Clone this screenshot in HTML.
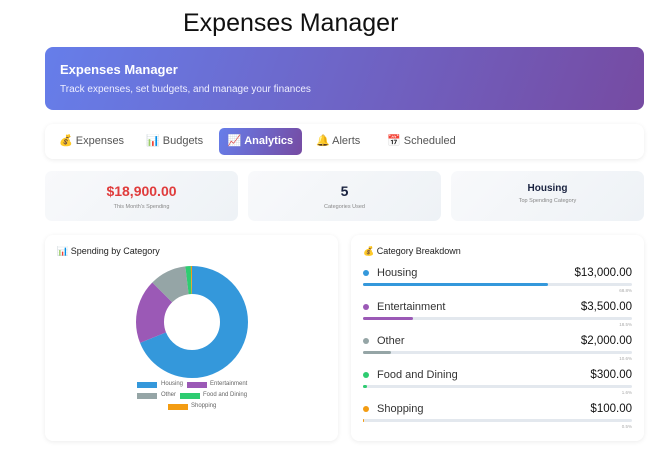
<!DOCTYPE html>
<html><head><meta charset="utf-8"><style>
*{margin:0;padding:0;box-sizing:border-box}
body{width:665px;height:456px;background:#fff;font-family:"Liberation Sans","Noto Sans CJK SC",sans-serif;position:relative;overflow:hidden;color:#222}
.a{position:absolute}
.card{position:absolute;background:#fff;border-radius:8px;box-shadow:0 1px 5px rgba(0,0,0,0.08)}
.stat{position:absolute;top:171px;height:50px;width:193px;border-radius:7px;background:linear-gradient(135deg,#f8f9fb,#eef2f6);text-align:center}
.tab{position:absolute;top:128px;height:27px;line-height:27px;font-size:11px;color:#555}
.row .lab{position:absolute;left:377px;font-size:11px;color:#333}
.amt{position:absolute;right:33px;font-size:11.5px;color:#111;text-align:right}
.dot{position:absolute;left:363px;width:6px;height:6px;border-radius:50%}
.bar{position:absolute;left:363px;width:269px;height:3px;background:#e3e8ee;border-radius:2px}
.fill{position:absolute;left:0;top:0;height:3px;border-radius:2px}
.pct{position:absolute;right:33px;font-size:4.5px;color:#aaa}
.lg{position:absolute;font-size:6px;color:#666}
.lb{position:absolute;width:20px;height:6px}
</style></head><body>
<div class="a" style="left:183px;width:210px;top:9px;text-align:center;font-size:25px;color:#111;white-space:nowrap">Expenses Manager</div>
<div class="a" style="left:45px;top:47px;width:599px;height:63px;border-radius:8px;background:linear-gradient(110deg,#667eea,#764ba2)"></div>
<div class="a" style="left:60px;top:62px;font-size:13px;font-weight:bold;color:#fff">Expenses Manager</div>
<div class="a" style="left:60px;top:84px;font-size:10px;color:#eef">Track expenses, set budgets, and manage your finances</div>

<div class="card" style="left:45px;top:124px;width:599px;height:35px"></div>
<div class="tab" style="left:59px">💰 Expenses</div>
<div class="tab" style="left:146px">📊 Budgets</div>
<div class="tab" style="left:219px;width:83px;border-radius:5px;background:linear-gradient(110deg,#667eea,#764ba2);color:#fff;font-weight:bold;text-align:center">📈 Analytics</div>
<div class="tab" style="left:316px">🔔 Alerts</div>
<div class="tab" style="left:387px">📅 Scheduled</div>

<div class="stat" style="left:45px"><div style="margin-top:12px;font-size:14px;font-weight:bold;color:#e03c3c">$18,900.00</div><div style="font-size:5.5px;color:#888;margin-top:5px">This Month's Spending</div></div>
<div class="stat" style="left:248px"><div style="margin-top:12px;font-size:14px;font-weight:bold;color:#1a2340">5</div><div style="font-size:5.5px;color:#888;margin-top:5px">Categories Used</div></div>
<div class="stat" style="left:451px"><div style="margin-top:12px;font-size:10px;font-weight:bold;color:#1a2340">Housing</div><div style="font-size:5.5px;color:#888;margin-top:4px">Top Spending Category</div></div>

<div class="card" style="left:45px;top:235px;width:293px;height:206px"></div>
<div class="a" style="left:57px;top:246px;font-size:9px;color:#222">📊 Spending by Category</div>
<svg class="a" style="left:0;top:0" width="665" height="456">
<g transform="rotate(-90 192 322)" fill="none" stroke-width="28">
<circle cx="192" cy="322" r="42" stroke="#3498db" stroke-dasharray="181.6 300" stroke-dashoffset="0"/>
<circle cx="192" cy="322" r="42" stroke="#9b59b6" stroke-dasharray="48.8 300" stroke-dashoffset="-181.6"/>
<circle cx="192" cy="322" r="42" stroke="#95a5a6" stroke-dasharray="28 300" stroke-dashoffset="-230.4"/>
<circle cx="192" cy="322" r="42" stroke="#2ecc71" stroke-dasharray="4.2 300" stroke-dashoffset="-258.4"/>
<circle cx="192" cy="322" r="42" stroke="#f39c12" stroke-dasharray="1.3 300" stroke-dashoffset="-262.6"/>
</g></svg>
<div class="lb" style="left:137px;top:382px;background:#3498db"></div><div class="lg" style="left:161px;top:381px">Housing</div>
<div class="lb" style="left:187px;top:382px;background:#9b59b6"></div><div class="lg" style="left:210px;top:381px">Entertainment</div>
<div class="lb" style="left:137px;top:393px;background:#95a5a6"></div><div class="lg" style="left:161px;top:392px">Other</div>
<div class="lb" style="left:180px;top:393px;background:#2ecc71"></div><div class="lg" style="left:203px;top:392px">Food and Dining</div>
<div class="lb" style="left:168px;top:404px;background:#f39c12"></div><div class="lg" style="left:191px;top:403px">Shopping</div>

<div class="card" style="left:351px;top:235px;width:293px;height:206px"></div>
<div class="a" style="left:363px;top:246px;font-size:9px;color:#222">💰 Category Breakdown</div>

<div class="dot" style="top:270px;background:#3498db"></div><div class="row"><div class="lab" style="top:267px">Housing</div></div><div class="amt" style="top:267px">$13,000.00</div>
<div class="bar" style="top:283px"><div class="fill" style="width:185px;background:#3498db"></div></div><div class="pct" style="top:288px">68.8%</div>

<div class="dot" style="top:304px;background:#9b59b6"></div><div class="row"><div class="lab" style="top:301px">Entertainment</div></div><div class="amt" style="top:301px">$3,500.00</div>
<div class="bar" style="top:317px"><div class="fill" style="width:50px;background:#9b59b6"></div></div><div class="pct" style="top:322px">18.5%</div>

<div class="dot" style="top:338px;background:#95a5a6"></div><div class="row"><div class="lab" style="top:335px">Other</div></div><div class="amt" style="top:335px">$2,000.00</div>
<div class="bar" style="top:351px"><div class="fill" style="width:28px;background:#95a5a6"></div></div><div class="pct" style="top:356px">10.6%</div>

<div class="dot" style="top:372px;background:#2ecc71"></div><div class="row"><div class="lab" style="top:369px">Food and Dining</div></div><div class="amt" style="top:369px">$300.00</div>
<div class="bar" style="top:385px"><div class="fill" style="width:4px;background:#2ecc71"></div></div><div class="pct" style="top:390px">1.6%</div>

<div class="dot" style="top:406px;background:#f39c12"></div><div class="row"><div class="lab" style="top:403px">Shopping</div></div><div class="amt" style="top:403px">$100.00</div>
<div class="bar" style="top:419px"><div class="fill" style="width:1px;background:#f39c12"></div></div><div class="pct" style="top:424px">0.5%</div>
</body></html>
